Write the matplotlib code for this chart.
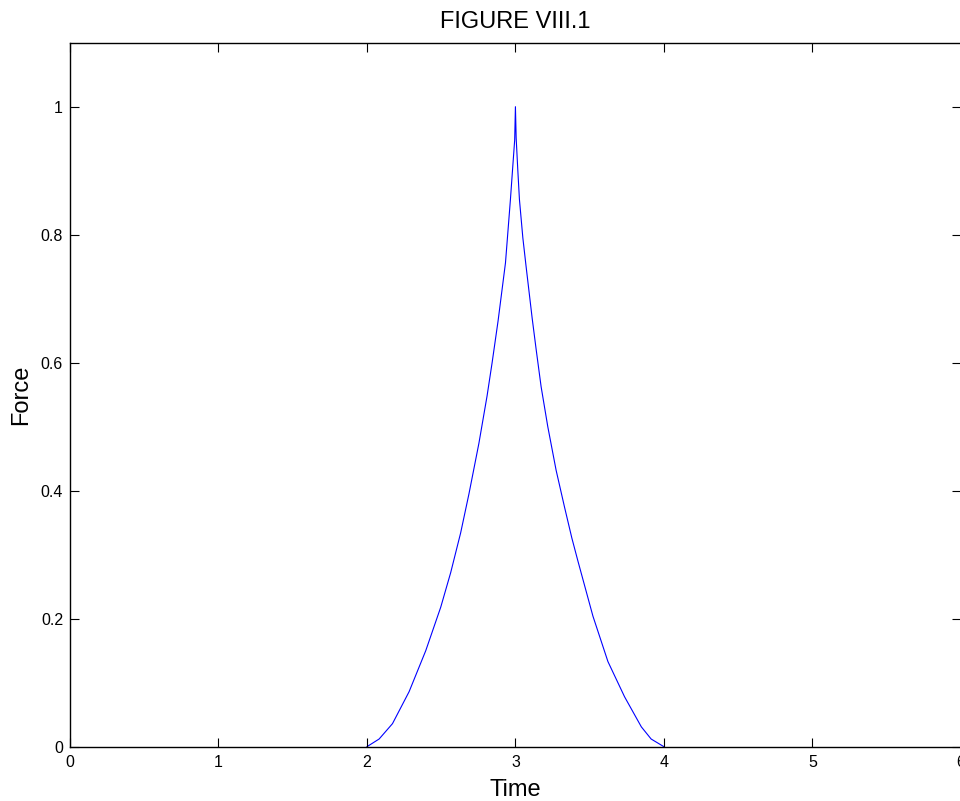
import matplotlib
matplotlib.use("Agg")
import matplotlib.pyplot as plt

plt.rcParams['font.family'] = ['Liberation Sans', 'DejaVu Sans']

# Data
time = [2.0, 2.082, 2.172, 2.284, 2.396, 2.497, 2.564, 2.631, 2.687,
        2.754, 2.809, 2.843, 2.883, 2.933, 2.966, 2.982, 2.995, 3.0,
        3.005, 3.016, 3.027, 3.050, 3.072, 3.113, 3.140, 3.173, 3.218,
        3.274, 3.330, 3.380, 3.421, 3.522, 3.623, 3.735, 3.848, 3.914,
        4.0]
force = [0.0, 0.012, 0.036, 0.086, 0.150, 0.218, 0.272, 0.334, 0.395,
         0.474, 0.548, 0.600, 0.665, 0.756, 0.854, 0.906, 0.948, 1.0,
         0.951, 0.901, 0.855, 0.795, 0.750, 0.669, 0.620, 0.5625, 0.500,
         0.432, 0.375, 0.326, 0.290, 0.204, 0.133, 0.078, 0.031, 0.012,
         0.0]

xticks = [0, 1, 2, 3, 4, 5, 6]
yticks = [0, 0.2, 0.4, 0.6, 0.8, 1]
yticklabels = ['0', '0.2', '0.4', '0.6', '0.8', '1']

fig = plt.figure(figsize=(9.6, 8.01), dpi=100)
ax = fig.add_axes([0.0729, 0.0678, 0.928, 0.8789])

ax.plot(time, force, color='#0000ff', linewidth=0.8, zorder=1)

ax.set_xlim(0, 6)
ax.set_ylim(0, 1.1)
ax.set_xticks(xticks)
ax.set_xticklabels([str(v) for v in xticks])
ax.set_yticks(yticks)
ax.set_yticklabels(yticklabels)

ax.tick_params(direction='in', length=6.5, width=0.8, top=True, right=True,
               labelsize=11.5, colors='black')
ax.tick_params(axis='x', pad=6)
ax.tick_params(axis='y', pad=5)
for s in ax.spines.values():
    s.set_linewidth(1.0)
    s.set_color('black')
    s.set_zorder(3)

ax.set_title('FIGURE VIII.1', fontsize=17, pad=10.5)
ax.set_xlabel('Time', fontsize=17, labelpad=6.5)
ax.set_ylabel('Force', fontsize=17, labelpad=6)

fig.savefig('out.png', dpi=100)
